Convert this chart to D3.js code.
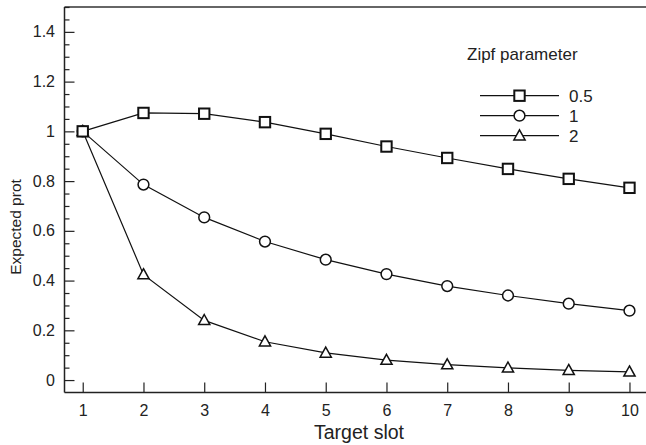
<!DOCTYPE html>
<html>
<head>
<meta charset="utf-8">
<script src="https://cdn.jsdelivr.net/npm/d3@7"></script>
<style>
html,body{margin:0;padding:0;background:#fff;}
svg{display:block;font-family:"Liberation Sans",Arial,sans-serif;}
</style>
</head>
<body>
<svg id="chart" width="646" height="445"></svg>
<script>
const slots = [1,2,3,4,5,6,7,8,9,10];
const seriesNames = ["0.5","1","2"];
const zipf05 = [1.0,1.074,1.071,1.037,0.990,0.939,0.893,0.849,0.809,0.773];
const zipf1  = [1.0,0.786,0.654,0.557,0.484,0.426,0.378,0.340,0.307,0.279];
const zipf2  = [1.0,0.424,0.240,0.154,0.109,0.080,0.062,0.049,0.039,0.033];
const yMajorTicks = [0,0.2,0.4,0.6,0.8,1,1.2,1.4];
const yTickLabels = ["0","0.2","0.4","0.6","0.8","1","1.2","1.4"];
const xTickLabels = ["1","2","3","4","5","6","7","8","9","10"];
const legendTitle = "Zipf parameter";
const xTitle = "Target slot";
const yTitle = "Expected prot";

const allSeries = [
  {name: seriesNames[0], values: zipf05, marker: "square"},
  {name: seriesNames[1], values: zipf1, marker: "circle"},
  {name: seriesNames[2], values: zipf2, marker: "triangle"}
];

(function(){
const svg = d3.select("#chart");
const pLeft = 64.5, pTop = 7, pBottom = 392.5;
const x = d3.scaleLinear().domain([0.7, 10.3]).range([pLeft, pLeft + 9.6*60.75]);
const y = d3.scaleLinear().domain([-0.05, 1.5]).range([pBottom, pTop]);

// frame
svg.append("line").attr("x1", pLeft).attr("x2", 660).attr("y1", pTop).attr("y2", pTop)
  .attr("stroke", "#333").attr("stroke-width", 1.5);
svg.append("line").attr("x1", pLeft).attr("x2", 660).attr("y1", pBottom).attr("y2", pBottom)
  .attr("stroke", "#222").attr("stroke-width", 1.5);
svg.append("line").attr("x1", pLeft).attr("x2", pLeft).attr("y1", pTop).attr("y2", pBottom)
  .attr("stroke", "#222").attr("stroke-width", 1.5);

// y axis (inward ticks)
const yMinor = d3.range(0, 1.5001, 0.05).map(v => +v.toFixed(2)).filter(v => !yMajorTicks.some(m => Math.abs(m - v) < 1e-6));
const yAxis = d3.axisLeft(y).tickValues(yMajorTicks).tickSize(-10).tickPadding(9.5)
  .tickFormat((d,i) => yTickLabels[i]);
const gy = svg.append("g").attr("transform", `translate(${pLeft},0)`).call(yAxis);
gy.select(".domain").remove();
gy.selectAll(".tick line").attr("stroke", "#222").attr("stroke-width", 1.2);
gy.selectAll(".tick text").attr("font-size", 16).attr("fill", "#222")
  .attr("font-family", "Liberation Sans, Arial, sans-serif");
const gyMinor = svg.append("g").attr("transform", `translate(${pLeft},0)`)
  .call(d3.axisLeft(y).tickValues(yMinor).tickSize(-5).tickFormat(""));
gyMinor.select(".domain").remove();
gyMinor.selectAll(".tick line").attr("stroke", "#222").attr("stroke-width", 1.2);

// x axis
const xAxis = d3.axisBottom(x).tickValues(slots).tickSize(-10).tickPadding(12)
  .tickFormat((d,i) => xTickLabels[i]);
const gx = svg.append("g").attr("transform", `translate(0,${pBottom})`).call(xAxis);
gx.select(".domain").remove();
gx.selectAll(".tick line").attr("stroke", "#222").attr("stroke-width", 1.2);
gx.selectAll(".tick text").attr("font-size", 16).attr("fill", "#222")
  .attr("font-family", "Liberation Sans, Arial, sans-serif");

// axis titles
svg.append("text").attr("x", 359).attr("y", 439).attr("text-anchor", "middle")
  .attr("font-size", 19.5).attr("fill", "#222").text(xTitle);
svg.append("text").attr("transform", `translate(21,${227}) rotate(-90)`).attr("text-anchor", "middle")
  .attr("font-size", 15.5).attr("fill", "#222").text(yTitle);

// markers
function drawMarker(g, type, cx, cy) {
  if (type === "square") {
    g.append("rect").attr("x", cx - 5.2).attr("y", cy - 5.2).attr("width", 10.4).attr("height", 10.4)
      .attr("fill", "#fff").attr("stroke", "#111").attr("stroke-width", 2);
  } else if (type === "circle") {
    g.append("circle").attr("cx", cx).attr("cy", cy).attr("r", 5.4)
      .attr("fill", "#fff").attr("stroke", "#111").attr("stroke-width", 1.5);
  } else {
    const s = 5.6;
    g.append("path").attr("d", `M${cx},${cy - s*1.05}L${cx + s},${cy + s*0.75}L${cx - s},${cy + s*0.75}Z`)
      .attr("fill", "#fff").attr("stroke", "#111").attr("stroke-width", 1.5).attr("stroke-linejoin", "miter");
  }
}

const line = d3.line().x((d,i) => x(slots[i])).y(d => y(d));
allSeries.forEach(s => {
  svg.append("path").datum(s.values).attr("d", line)
    .attr("fill", "none").attr("stroke", "#111").attr("stroke-width", 1.2);
});
allSeries.slice().reverse().forEach(s => {
  const g = svg.append("g");
  s.values.forEach((v,i) => drawMarker(g, s.marker, x(slots[i]), y(v)));
});

// legend
svg.append("text").attr("x", 467).attr("y", 60).attr("font-size", 17).attr("fill", "#222").text(legendTitle);
allSeries.forEach((s, i) => {
  const ly = 95.7 + i*20;
  svg.append("line").attr("x1", 480).attr("x2", 559).attr("y1", ly).attr("y2", ly)
    .attr("stroke", "#111").attr("stroke-width", 1.2);
  drawMarker(svg, s.marker, 519.5, ly);
  svg.append("text").attr("x", 569).attr("y", ly + 6.3).attr("font-size", 17).attr("fill", "#222").text(s.name);
});
})();
</script>
</body>
</html>
